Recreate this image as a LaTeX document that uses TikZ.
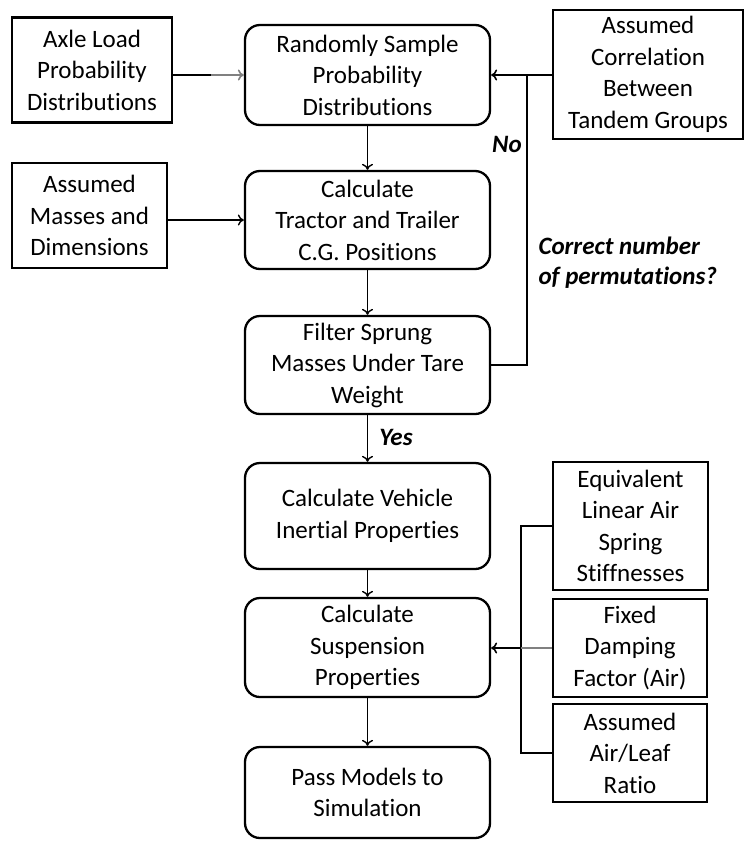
\documentclass[tikz,border=0pt]{standalone}
\usepackage{fontspec}
\setmainfont{Carlito}[Ligatures=NoCommon]
\usetikzlibrary{arrows.meta}

\tikzset{
  stepbox/.style={draw, line width=2.3pt, rounded corners=15pt, align=center,
    minimum width=245pt, inner sep=2pt},
  inputbox/.style={draw, line width=2.6pt, align=center, inner sep=2pt},
  flow/.style={-{To[length=6pt,width=11pt,line width=1.4pt]}, line width=1.4pt},
  feed/.style={-{To[length=6pt,width=11pt,line width=1.6pt]}, line width=2.6pt},
  busline/.style={line width=1.9pt},
  tag/.style={font=\fontsize{25}{30}\selectfont\bfseries\itshape},
}

\begin{document}
\begin{tikzpicture}[x=1pt, y=-1pt,
  every node/.style={font=\fontsize{25}{31.5}\selectfont},
]
\useasboundingbox (0,0) rectangle (744,841);

% ---- Main process chain ----
\node[stepbox, minimum height=100pt] (sample)  at (367.5,75)
  {Randomly Sample\\Probability\\Distributions};
\node[stepbox, minimum height=98pt]  (tractor) at (367.5,220)
  {Calculate\\Tractor and Trailer\\C.G. Positions};
\node[stepbox, minimum height=98pt]  (filter)  at (367.5,365)
  {Filter Sprung\\Masses Under Tare\\Weight};
\node[stepbox, minimum height=106pt] (inertia) at (367.5,516)
  {Calculate Vehicle\\Inertial Properties};
\node[stepbox, minimum height=99pt]  (susp)    at (367.5,647.5)
  {Calculate\\Suspension\\Properties};
\node[stepbox, minimum height=91pt]  (pass)    at (367.5,792.5)
  {Pass Models to\\Simulation};

% ---- Inputs on the left ----
\node[inputbox, minimum width=160pt, minimum height=105pt] (axle)   at (92,70)
  {Axle Load\\Probability\\Distributions};
\node[inputbox, minimum width=155pt, minimum height=105pt] (masses) at (89.5,215.5)
  {Assumed\\Masses and\\Dimensions};

% ---- Inputs on the right ----
\node[inputbox, minimum width=190pt, minimum height=129pt] (corr)   at (648,74.5)
  {Assumed\\Correlation\\Between\\Tandem Groups};
\node[inputbox, minimum width=155pt, minimum height=128pt] (equiv)  at (630.5,526)
  {Equivalent\\Linear Air\\Spring\\Stiffnesses};
\node[inputbox, minimum width=154pt, minimum height=98pt]  (damp)   at (630,648)
  {Fixed\\Damping\\Factor (Air)};
\node[inputbox, minimum width=154pt, minimum height=98pt]  (ratio)  at (630,753)
  {Assumed\\Air/Leaf\\Ratio};

% ---- Chain connectors ----
\draw[flow] (sample) -- (tractor);
\draw[flow] (tractor) -- (filter);
\draw[flow] (filter) -- (inertia);
\draw[flow] (inertia) -- (susp);
\draw[flow] (susp) -- (pass);

% ---- Left feeds ----
\draw[line width=2.6pt] (axle.east |- sample.west) -- ++(38,0) coordinate (axlemid);
\draw[feed, gray] (axlemid) -- (sample.west);
\draw[line width=2.6pt] (masses.east |- tractor.west) -- ++(38,0) coordinate (massmid);
\draw[flow] (massmid) -- (tractor.west);

% ---- Right feeds ----
\draw[feed] (corr.west |- sample.east) -- (sample.east);
\coordinate (loop) at (527,75);
\draw[busline] (filter.east) -| (loop);

\draw[busline] (equiv.west) -- ++(-31,0) |- (ratio.west);
\draw[line width=2.6pt, gray] (damp.west) -- ++(-31,0) coordinate (bus);
\draw[feed] (bus) -- (susp.east |- bus);

% ---- Decision labels ----
\node[tag] (no)  at (507,144) {No};
\node[tag] (yes) at (396,437) {Yes};
\node[tag, align=left, anchor=west] (perm) at (535,263)
  {Correct number\\of permutations?};

\end{tikzpicture}
\end{document}
